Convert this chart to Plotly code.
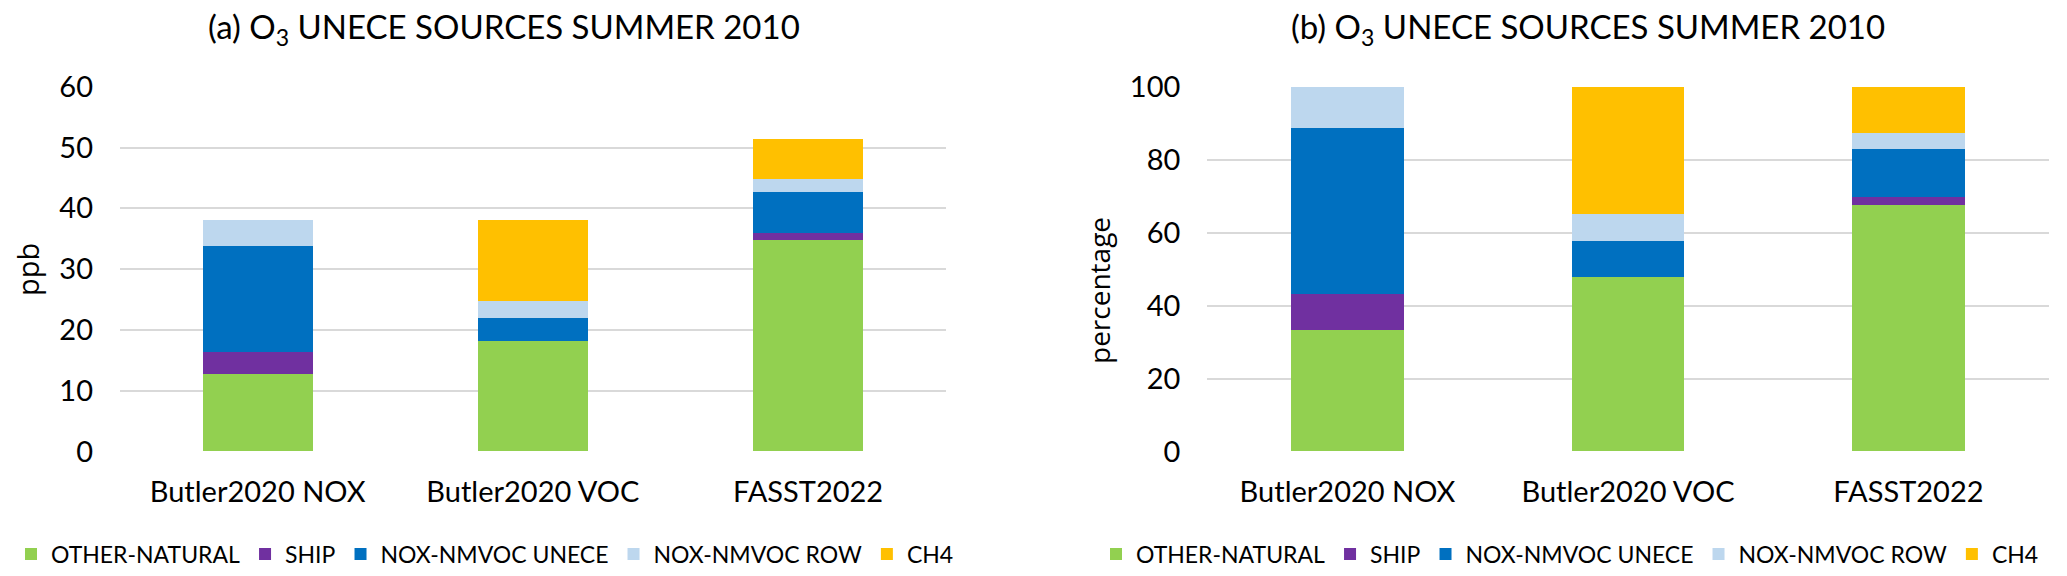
import plotly.graph_objects as go

categories = ["Butler2020 NOX", "Butler2020 VOC", "FASST2022"]
series_names = ["OTHER-NATURAL", "SHIP", "NOX-NMVOC UNECE", "NOX-NMVOC ROW", "CH4"]
colors = ["#92D050", "#7030A0", "#0070C0", "#BDD7EE", "#FFC000"]

# panel (a): ppb
ppb_natural = [12.7, 18.2, 34.8]
ppb_ship = [3.6, 0.0, 1.2]
ppb_unece = [17.5, 3.7, 6.7]
ppb_row = [4.3, 2.8, 2.2]
ppb_ch4 = [0.0, 13.4, 6.5]

# panel (b): percentage
pct_natural = [33.3, 47.9, 67.6]
pct_ship = [9.9, 0.0, 2.1]
pct_unece = [45.6, 9.7, 13.3]
pct_row = [11.2, 7.5, 4.2]
pct_ch4 = [0.0, 34.9, 12.8]

y_ticks_a = [0, 10, 20, 30, 40, 50, 60]
y_ticks_b = [0, 20, 40, 60, 80, 100]

W, H = 2067, 576
def px(x):
    return x / W
def py(y):
    return 1 - y / H

MAIN_FONT = "Lato"
TITLE_FONT = "Open Sans"

fig = go.Figure()
left_series = [ppb_natural, ppb_ship, ppb_unece, ppb_row, ppb_ch4]
right_series = [pct_natural, pct_ship, pct_unece, pct_row, pct_ch4]
for name, vals, col in zip(series_names, left_series, colors):
    fig.add_trace(go.Bar(x=categories, y=vals, name=name, marker=dict(color=col, line=dict(width=0)),
                         xaxis="x", yaxis="y", legend="legend"))
for name, vals, col in zip(series_names, right_series, colors):
    fig.add_trace(go.Bar(x=categories, y=vals, name=name, marker=dict(color=col, line=dict(width=0)),
                         xaxis="x2", yaxis="y2", legend="legend2"))

ydom = [py(451.5), py(86.7)]
axis_common = dict(showline=False, zeroline=False, ticks="", tickfont=dict(family=MAIN_FONT, size=29, color="#000000"))

legend_common = dict(orientation="h", y=py(554), yanchor="middle", traceorder="normal",
                     font=dict(family=MAIN_FONT, size=23, color="#000000"), bgcolor="rgba(0,0,0,0)",
                     itemwidth=30, tracegroupgap=0)

fig.update_layout(
    width=W, height=H,
    margin=dict(l=0, r=0, t=0, b=0, autoexpand=False),
    paper_bgcolor="white", plot_bgcolor="white",
    barmode="stack", bargap=0.6,
    font=dict(family=MAIN_FONT, color="#000000"),
    xaxis=dict(domain=[px(120), px(945.7)], anchor="y", showgrid=False, ticklabelstandoff=20, **axis_common),
    yaxis=dict(domain=ydom, anchor="x", range=[0, 60], tickvals=y_ticks_a, showgrid=True,
               gridcolor="#D9D9D9", gridwidth=2, ticklabelstandoff=26, **axis_common),
    xaxis2=dict(domain=[px(1207.3), px(2048.7)], anchor="y2", showgrid=False, ticklabelstandoff=20, **axis_common),
    yaxis2=dict(domain=ydom, anchor="x2", range=[0, 100], tickvals=y_ticks_b, showgrid=True,
                gridcolor="#D9D9D9", gridwidth=2, ticklabelstandoff=26, **axis_common),
    legend=dict(x=px(485), xanchor="center", **legend_common),
    legend2=dict(x=px(1570), xanchor="center", **legend_common),
    showlegend=True,
)

fig.add_annotation(text="(a) O<sub>3</sub> UNECE SOURCES SUMMER 2010", xref="paper", yref="paper",
                   x=px(504), y=py(28), xanchor="center", yanchor="middle", showarrow=False,
                   font=dict(family=MAIN_FONT, size=33, color="#000000"))
fig.add_annotation(text="(b) O<sub>3</sub> UNECE SOURCES SUMMER 2010", xref="paper", yref="paper",
                   x=px(1588), y=py(28), xanchor="center", yanchor="middle", showarrow=False,
                   font=dict(family=MAIN_FONT, size=33, color="#000000"))
fig.add_annotation(text="ppb", xref="paper", yref="paper", x=px(27), y=py(270), textangle=-90,
                   xanchor="center", yanchor="middle", showarrow=False,
                   font=dict(family=TITLE_FONT, size=29, color="#000000"))
fig.add_annotation(text="percentage", xref="paper", yref="paper", x=px(1099), y=py(291), textangle=-90,
                   xanchor="center", yanchor="middle", showarrow=False,
                   font=dict(family=TITLE_FONT, size=28, color="#000000"))

fig.write_html("out.html", config={"displayModeBar": False},
               post_script="document.body.style.margin='0px';document.body.style.overflow='hidden';")
